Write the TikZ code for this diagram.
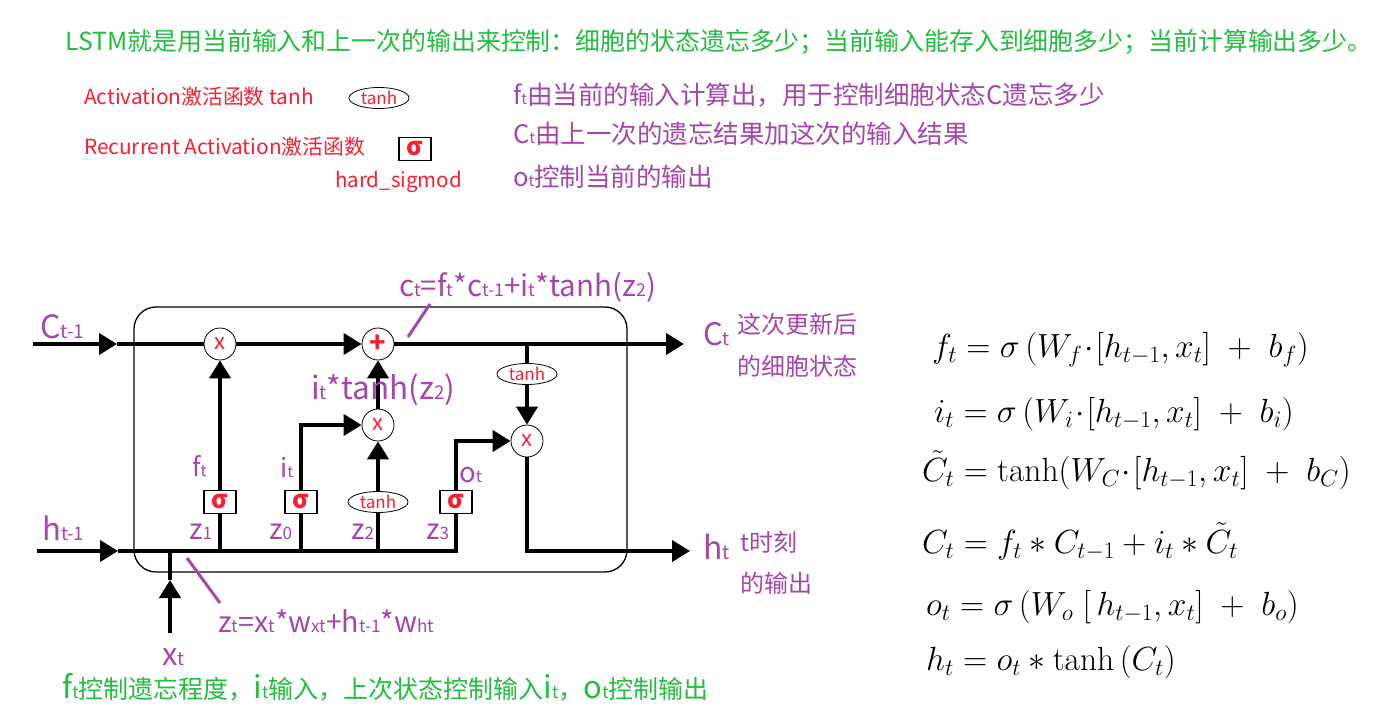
\RequirePackage{fix-cm}
\documentclass[tikz,border=0pt]{standalone}
\usepackage{fontspec}
\usetikzlibrary{arrows.meta,shapes.geometric}
\newfontfamily\ya{Noto Sans CJK SC}
\newcommand\fsz[1]{\fontsize{#1}{#1}\selectfont}
\newcommand\mysub[1]{\scalebox{0.6}{#1}}
\definecolor{grn}{RGB}{34,190,64}
\definecolor{redt}{RGB}{250,30,50}
\definecolor{purp}{RGB}{165,70,170}
\tikzset{
  txt/.style={inner sep=0pt, font=\ya},
  plab/.style={txt, text=purp},
  ln/.style={line width=4pt},
  arr/.style={line width=4pt, -{Triangle[length=18pt,width=21pt]}},
  opc/.style={circle, draw, line width=0.8pt, fill=white, minimum size=32pt, inner sep=0pt, text=redt, font=\ya\fsz{22}},
  tnh/.style={ellipse, draw, line width=0.8pt, fill=white, minimum width=60pt, minimum height=21pt, inner sep=0pt, text=redt, font=\ya\fsz{17}},
  sgb/.style={rectangle, draw, line width=1.2pt, fill=white, minimum width=32pt, minimum height=23pt, inner sep=0pt, text=redt, font=\ya\bfseries\fsz{25}},
  pln/.style={draw=purp, line width=3pt},
  eqn/.style={inner sep=0pt, anchor=base west, font=\fsz{33.5}}
}
\begin{document}
\begin{tikzpicture}[x=1pt,y=-1pt]
\fill[white] (0,0) rectangle (1396,719);
\useasboundingbox (0,0) rectangle (1396,719);

% title
\node[txt, text=grn, anchor=west] (title) at (65,42) {\fsz{24.9}LSTM就是用当前输入和上一次的输出来控制：细胞的状态遗忘多少；当前输入能存入到细胞多少；当前计算输出多少。};

% legend
\node[txt, text=redt, anchor=base west] (act) at (84,105) {\fsz{20.8}Activation激活函数 tanh};
\node[tnh] (legt) at (379,98) {tanh};
\node[txt, text=redt, anchor=base west] (ract) at (84,155) {\fsz{20.8}Recurrent Activation激活函数};
\node[sgb] (legs) at (415,149) {σ};
\node[txt, text=redt, anchor=base west] (hsig) at (335,188) {\fsz{20.5}hard\_sigmod};

% purple notes
\node[plab, anchor=west] (p1) at (513,95) {\fsz{25.5}f\mysub{t}由当前的输入计算出，用于控制细胞状态C遗忘多少};
\node[plab, anchor=west] (p2) at (513,134) {\fsz{25.5}C\mysub{t}由上一次的遗忘结果加这次的输入结果};
\node[plab, anchor=west] (p3) at (513,177) {\fsz{25.5}o\mysub{t}控制当前的输出};

% cell box
\node[draw, line width=1.3pt, rounded corners=22pt, minimum width=493pt, minimum height=265pt, inner sep=0pt] (cell) at (380.5,439.5) {};

% operators
\node[opc] (x1) at (220,344) {x};
\node[opc, font=\ya\bfseries\fsz{27}] (plus) at (378,344) {+};
\node[opc] (x2) at (378,425) {x};
\node[opc] (x3) at (527,441) {x};
\node[tnh] (tc) at (527,374) {tanh};
\node[sgb] (s1) at (220,502) {σ};
\node[sgb] (s0) at (301,502) {σ};
\node[tnh] (t2) at (378,502) {tanh};
\node[sgb] (s3) at (456,502) {σ};

% coordinates
\coordinate (cin) at (33,344);
\coordinate (cmid) at (117,344);
\coordinate (cout) at (684,344);
\coordinate (ctap) at (527,344);
\coordinate (hin) at (37,551);
\coordinate (hmid) at (118,551);
\coordinate (hend) at (458,551);
\coordinate (hout) at (690,551);
\coordinate (xin) at (170,633);
\coordinate (xmid) at (170,580);
\coordinate (xj) at (170,551);

% cell state line
\draw[arr] (cin) -- (cmid);
\draw[ln] (cmid) -- (x1);
\draw[arr] (x1) -- (plus);
\draw[arr] (plus) -- (cout);
\draw[ln] (ctap) -- (tc.north);
\draw[arr] (tc) -- (x3);

% hidden line
\draw[arr] (hin) -- (hmid);
\draw[ln] (hmid) -- (hend);
\draw[arr] (xin) -- (xmid);
\draw[ln] (xmid) -- (xj);

% gates
\draw[ln] (s1.south) -- (s1.south |- hin);
\draw[ln] (s0.south) -- (s0.south |- hin);
\draw[ln] (t2.south) -- (t2.south |- hin);
\draw[ln] (s3.south) -- (s3.south |- hin);
\draw[arr] (s1) -- (x1);
\draw[arr] (s0.north) |- (x2.west);
\draw[arr] (t2) -- (x2);
\draw[arr] (x2) -- (plus);
\draw[arr] (s3.north) |- (x3.west);
\draw[arr] (x3.south) |- (hout);

% purple pointer lines
\coordinate (pa1) at (408,337);
\coordinate (pa2) at (430,304);
\coordinate (pb1) at (187,558);
\coordinate (pb2) at (220,603);
\draw[pln] (pa1) -- (pa2);
\draw[pln] (pb1) -- (pb2);

% labels
\node[plab, anchor=base west] (lc1) at (40,338) {\fsz{32}C\mysub{t-1}};
\node[plab, anchor=base west] (lh1) at (42,540) {\fsz{31}h\mysub{t-1}};
\node[plab, anchor=base west] (lct) at (399,296) {\fsz{29.5}c\mysub{t}=f\mysub{t}*c\mysub{t-1}+i\mysub{t}*tanh(z\mysub{2})};
\node[plab, anchor=base west] (lit2) at (311,399) {\fsz{31.5}i\mysub{t}*tanh(z\mysub{2})};
\node[plab, anchor=base west] (lft) at (192,476) {\fsz{26}f\mysub{t}};
\node[plab, anchor=base west] (lit) at (280,477) {\fsz{26}i\mysub{t}};
\node[plab, anchor=base west] (lot) at (459,482) {\fsz{27.5}o\mysub{t}};
\node[plab, anchor=base west] (lz1) at (189,539) {\fsz{28.5}z\mysub{1}};
\node[plab, anchor=base west] (lz0) at (269,539) {\fsz{28.5}z\mysub{0}};
\node[plab, anchor=base west] (lz2) at (351,539) {\fsz{28.5}z\mysub{2}};
\node[plab, anchor=base west] (lz3) at (426,539) {\fsz{28.5}z\mysub{3}};
\node[plab, anchor=base west] (lzt) at (218,632) {\fsz{28.7}z\mysub{t}=x\mysub{t}*w\mysub{xt}+h\mysub{t-1}*w\mysub{ht}};
\node[plab, anchor=base west] (lxt) at (162,665) {\fsz{31}x\mysub{t}};
\node[plab, anchor=base west] (lct2) at (703,345) {\fsz{31}C\mysub{t}};
\node[plab, anchor=west] (lcn1) at (737,324) {\fsz{24}这次更新后};
\node[plab, anchor=west] (lcn2) at (737,366) {\fsz{24}的细胞状态};
\node[plab, anchor=base west] (lht) at (703,559) {\fsz{32}h\mysub{t}};
\node[plab, anchor=west] (lhn1) at (740,542) {\fsz{24}t时刻};
\node[plab, anchor=west] (lhn2) at (740,583) {\fsz{24}的输出};

\node[txt, text=grn, anchor=base west] (bottom) at (62,698) {\fsz{25}{\fsz{31}f}{\fsz{17}t}控制遗忘程度，{\fsz{31}i}{\fsz{17}t}输入，上次状态控制输入{\fsz{31}i}{\fsz{17}t}，{\fsz{31}o}{\fsz{17}t}控制输出};

% equations
\node[eqn] (e1) at (932,357) {$f_t=\sigma\,(W_f\!\cdot\![h_{t-1},x_t]\;+\;b_f)$};
\node[eqn] (e2) at (934,422) {$i_t=\sigma\,(W_i\!\cdot\![h_{t-1},x_t]\;+\;b_i)$};
\node[eqn] (e3) at (922,481) {$\tilde{C}_t=\tanh(W_C\!\cdot\![h_{t-1},x_t]\;+\;b_C)$};
\node[eqn] (e4) at (922,553) {$C_t=f_t*C_{t-1}+i_t*\tilde{C}_t$};
\node[eqn] (e5) at (926,615) {$o_t=\sigma\,(W_o\;[\,h_{t-1},x_t]\;+\;b_o)$};
\node[eqn] (e6) at (926,670) {$h_t=o_t*\tanh\,(C_t)$};
\end{tikzpicture}
\end{document}
